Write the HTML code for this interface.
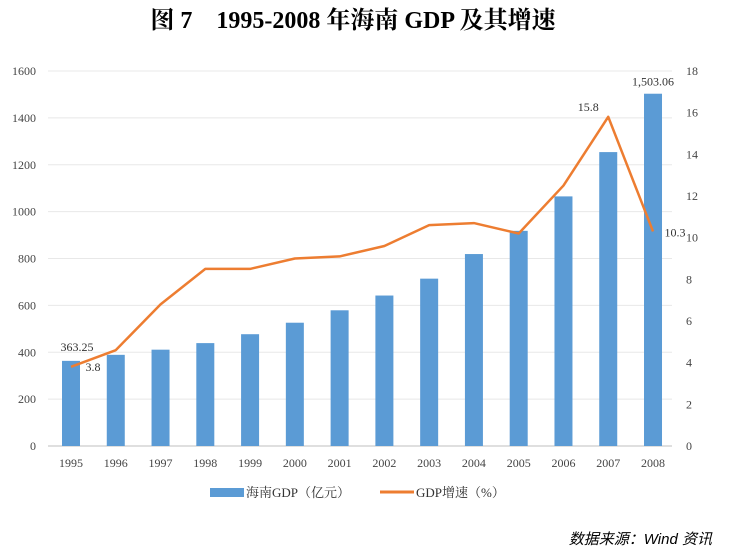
<!DOCTYPE html>
<html><head><meta charset="utf-8"><style>
body{margin:0;background:#fff;width:736px;height:553px;overflow:hidden}
svg{display:block;font-family:"Liberation Serif","Noto Serif CJK SC",serif}
</style></head><body>
<svg id="chart" width="736" height="553">
<text x="353" y="28" text-anchor="middle" font-size="24" font-weight="bold">图 7　1995-2008 年海南 GDP 及其增速</text>
<g id="grid"></g><g id="bars"></g><g id="line"></g><g id="labels"></g>
<g>
<rect x="210" y="488" width="34" height="9" fill="#5b9bd5"/>
<text x="246" y="497" font-size="13" fill="#333">海南GDP（亿元）</text>
<line x1="380" y1="492" x2="414" y2="492" stroke="#ed7d31" stroke-width="3"/>
<text x="416" y="497" font-size="13" fill="#333">GDP增速（%）</text>
</g>
<text x="712" y="544" text-anchor="end" font-size="15" font-style="italic" font-family="Liberation Sans,Noto Sans CJK SC,sans-serif">数据来源：Wind 资讯</text>
</svg>
<script>
const years=["1995","1996","1997","1998","1999","2000","2001","2002","2003","2004","2005","2006","2007","2008"];
const gdp=[363.25,389,411,439,477,526,579,642,714,819,918,1065,1254,1503.06];
const growth=[3.8,4.6,6.8,8.5,8.5,9.0,9.1,9.6,10.6,10.7,10.2,12.5,15.8,10.3];
const leftTicks=[0,200,400,600,800,1000,1200,1400,1600];
const rightTicks=[0,2,4,6,8,10,12,14,16,18];
const NS="http://www.w3.org/2000/svg";
const y0=446,yTop=71;
const yL=v=>y0-(v/1600)*(y0-yTop);
const yR=v=>y0-(v/18)*(y0-yTop);
const xC=i=>71+i*44.77;
function mk(tag,attrs,parent,txt){const e=document.createElementNS(NS,tag);for(const k in attrs)e.setAttribute(k,attrs[k]);if(txt!==undefined)e.textContent=txt;document.getElementById(parent).appendChild(e);return e;}
leftTicks.forEach(t=>{
 const l=mk('line',{x1:48,x2:672,y1:yL(t),y2:yL(t),stroke:t===0?'#bfbfbf':'#e8e8e8','stroke-width':1},'grid');
 
 
 const tx=mk('text',{x:36,y:yL(t)+4,'text-anchor':'end','font-size':12,fill:'#444'},'grid',t);
 
 
});
rightTicks.forEach(t=>{
 const tx=mk('text',{x:686,y:yR(t)+4,'font-size':12,fill:'#444'},'grid',t);
 
 
});
years.forEach((y,i)=>{
 const r=mk('rect',{x:xC(i)-9,y:yL(gdp[i]),width:18,height:y0-yL(gdp[i]),fill:'#5b9bd5'},'bars');
 
 
 const tx=mk('text',{x:xC(i),y:467,'text-anchor':'middle','font-size':12,fill:'#444'},'labels',y);
 
 
});
const p=mk('polyline',{points:growth.map((g,i)=>xC(i)+','+yR(g)).join(' '),fill:'none',stroke:'#ed7d31','stroke-width':2.5,'stroke-linejoin':'round'},'line');


const anns=[[xC(0)+6,yL(gdp[0])-10,'363.25'],[xC(0)+22,yR(growth[0])+4,'3.8'],[xC(12)-20,yR(growth[12])-6,'15.8'],[xC(13),yL(gdp[13])-8,'1,503.06'],[xC(13)+22,yR(growth[13])+5,'10.3']];
anns.forEach(a=>{
 const tx=mk('text',{x:a[0],y:a[1],'text-anchor':'middle','font-size':12,fill:'#333'},'labels',a[2]);
 
 
});
</script>
</body></html>
